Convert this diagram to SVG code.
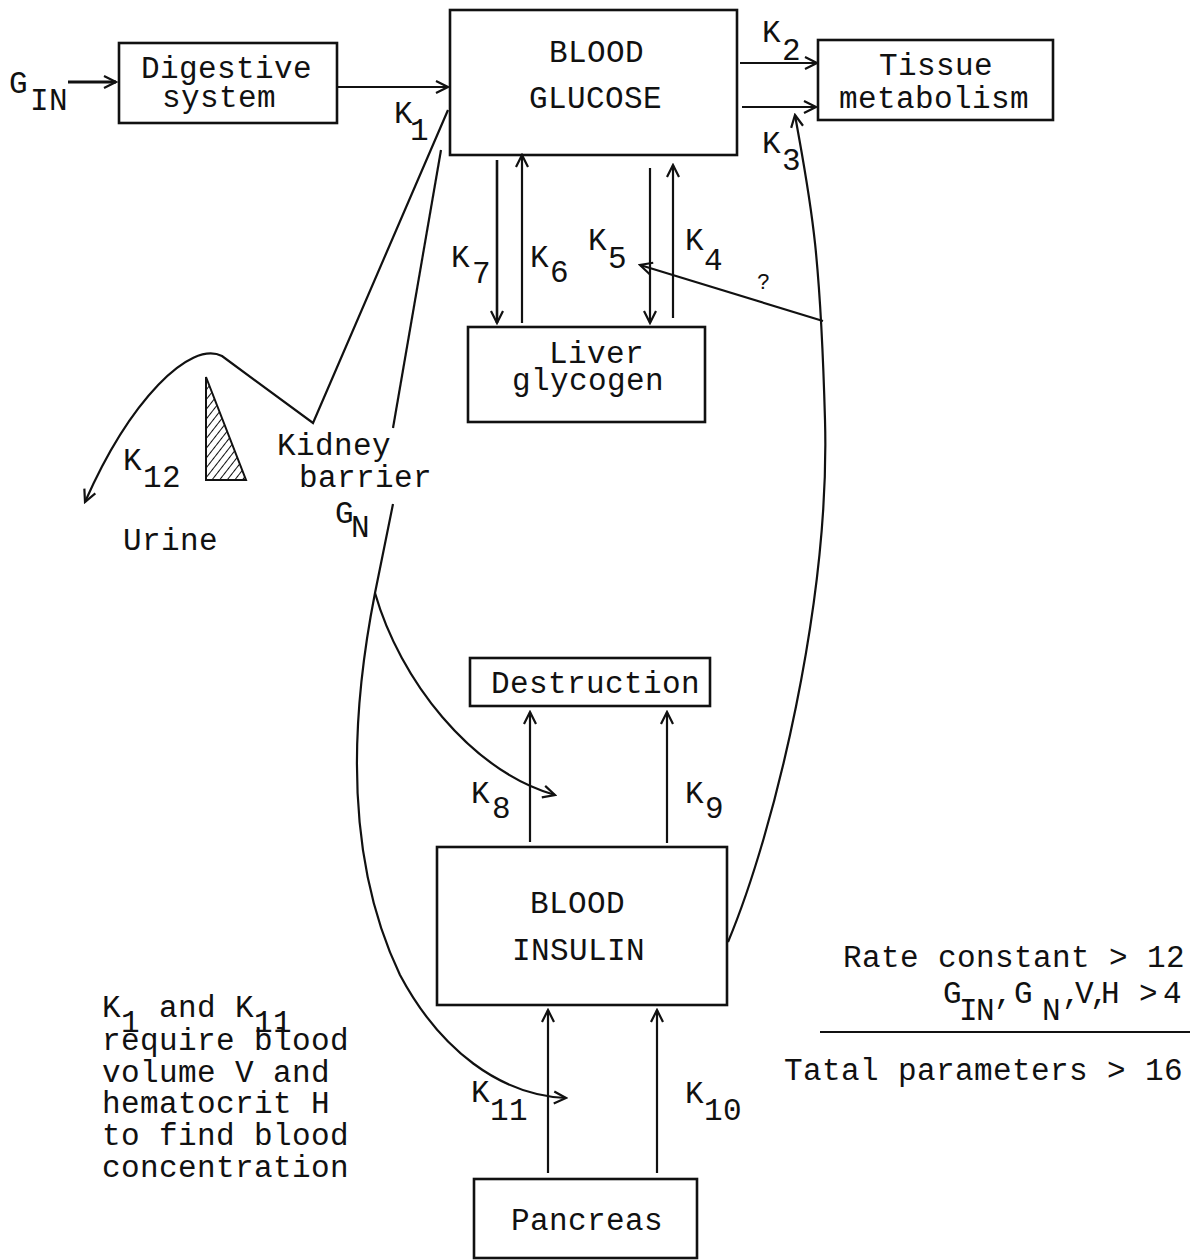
<svg xmlns="http://www.w3.org/2000/svg" width="1204" height="1260" viewBox="0 0 1204 1260">
<style>
text{font-family:"Liberation Mono","DejaVu Sans Mono",monospace;font-size:31px;letter-spacing:0.4px;fill:#111}
.box{fill:none;stroke:#111;stroke-width:2.6}
.ln{fill:none;stroke:#111;stroke-width:2.2}
.ar{marker-end:url(#ah)}
.q{font-size:22px;letter-spacing:0}
.ns{letter-spacing:0}
</style>
<defs>
<marker id="ah" markerUnits="userSpaceOnUse" markerWidth="16" markerHeight="16" viewBox="0 0 16 16" refX="14" refY="8" orient="auto">
<path d="M2,2 L14,8 L2,14" fill="none" stroke="#111" stroke-width="2.2"/>
</marker>
<pattern id="hatch" patternUnits="userSpaceOnUse" width="6" height="6" patternTransform="rotate(38)">
<line x1="0" y1="0" x2="0" y2="6" stroke="#111" stroke-width="2"/>
</pattern>
</defs>
<rect width="1204" height="1260" fill="#fff"/>

<g id="gin-label"><text x="9" y="93">G</text><text x="30" y="110">IN</text></g>

<g id="digestive">
<rect class="box" x="119" y="43" width="218" height="80"/>
<text x="141" y="78">Digestive</text>
<text x="162" y="107">system</text>
</g>

<g id="blood-glucose">
<rect class="box" x="450" y="10" width="287" height="145"/>
<text x="549" y="62">BLOOD</text>
<text x="529" y="108">GLUCOSE</text>
</g>

<g id="tissue">
<rect class="box" x="818" y="40" width="235" height="80"/>
<text x="879" y="75">Tissue</text>
<text x="839" y="108">metabolism</text>
</g>

<g id="liver">
<rect class="box" x="468" y="327" width="237" height="95"/>
<text x="549" y="363">Liver</text>
<text x="512" y="390">glycogen</text>
</g>

<g id="kidney">
<polygon points="206,377 206,480 246,480" fill="url(#hatch)" stroke="#111" stroke-width="2"/>
<text x="277" y="455">Kidney</text>
<text x="299" y="487">barrier</text>
<text x="335" y="523">G</text><text x="351" y="537">N</text>
</g>

<g id="urine">
<text x="123" y="550">Urine</text>
</g>

<g id="destruction">
<rect class="box" x="470" y="658" width="240" height="48"/>
<text x="491" y="693">Destruction</text>
</g>

<g id="blood-insulin">
<rect class="box" x="437" y="847" width="290" height="158"/>
<text x="530" y="913">BLOOD</text>
<text x="512" y="960">INSULIN</text>
</g>

<g id="pancreas">
<rect class="box" x="474" y="1179" width="223" height="79"/>
<text x="511" y="1230">Pancreas</text>
</g>

<g id="labels">
<text x="394" y="123">K</text><text x="410" y="140">1</text>
<text x="762" y="42">K</text><text x="782" y="60">2</text>
<text x="762" y="153">K</text><text x="782" y="170">3</text>
<text x="451" y="267">K</text><text x="472" y="283">7</text>
<text x="530" y="267">K</text><text x="550" y="282">6</text>
<text x="588" y="250">K</text><text x="608" y="268">5</text>
<text x="685" y="250">K</text><text x="704" y="270">4</text>
<text class="q" x="757" y="289">?</text>
<text x="123" y="470">K</text><text x="143" y="487">12</text>
<text x="471" y="803">K</text><text x="492" y="818">8</text>
<text x="685" y="803">K</text><text x="705" y="818">9</text>
<text x="471" y="1102">K</text><text x="490" y="1120">11</text>
<text x="685" y="1103">K</text><text x="704" y="1120">10</text>
</g>

<g id="note-left">
<text x="102" y="1017">K<tspan dy="15">1</tspan><tspan dy="-15"> and K</tspan><tspan dy="15">11</tspan></text>
<text x="102" y="1050">require blood</text>
<text x="102" y="1082">volume V and</text>
<text x="102" y="1113">hematocrit H</text>
<text x="102" y="1145">to find blood</text>
<text x="102" y="1177">concentration</text>
</g>

<g id="note-right">
<text x="843" y="967">Rate constant &gt; 12</text>
<text class="ns" x="943" y="1003">G</text>
<text class="ns" x="959 976" y="1020">IN</text>
<text class="ns" x="994" y="1003">,</text>
<text class="ns" x="1014" y="1003">G</text>
<text class="ns" x="1042" y="1020">N</text>
<text class="ns" x="1062 1075 1090 1101" y="1003">,V,H</text>
<text class="ns" x="1139" y="1003">&gt;</text>
<text class="ns" x="1163" y="1003">4</text>
<line class="ln" x1="820" y1="1032" x2="1190" y2="1032"/>
<text x="784" y="1080">Tatal parameters &gt; 16</text>
</g>

<g id="connectors">
<line class="ln ar" x1="68" y1="82" x2="116" y2="82" style="stroke-width:3"/>
<line class="ln ar" x1="338" y1="87" x2="448" y2="87"/>
<line class="ln ar" x1="740" y1="63" x2="817" y2="63"/>
<line class="ln ar" x1="742" y1="107" x2="816" y2="107"/>
<line class="ln ar" x1="497" y1="160" x2="497" y2="323" style="stroke-width:2.6"/>
<line class="ln ar" x1="522" y1="323" x2="522" y2="155"/>
<line class="ln ar" x1="650" y1="168" x2="650" y2="323"/>
<line class="ln ar" x1="673" y1="318" x2="673" y2="165"/>
<line class="ln ar" x1="823" y1="321" x2="640" y2="265"/>
<path class="ln ar" d="M728 942 C775 830, 830 600, 825 420 S810 200, 795 115"/>
<path class="ln ar" d="M448 110 L313 423 L222 356 C190 340, 130 400, 85 502"/>
<line class="ln" x1="441" y1="150" x2="393" y2="428"/>
<path class="ln ar" d="M393 504 L375 593 C350 720, 345 860, 400 975 C440 1050, 500 1095, 566 1098"/>
<path class="ln ar" d="M375 593 C400 680, 470 770, 555 795"/>
<line class="ln ar" x1="530" y1="842" x2="530" y2="712"/>
<line class="ln ar" x1="667" y1="843" x2="667" y2="712"/>
<line class="ln ar" x1="548" y1="1173" x2="548" y2="1010"/>
<line class="ln ar" x1="657" y1="1173" x2="657" y2="1010"/>
</g>
</svg>
